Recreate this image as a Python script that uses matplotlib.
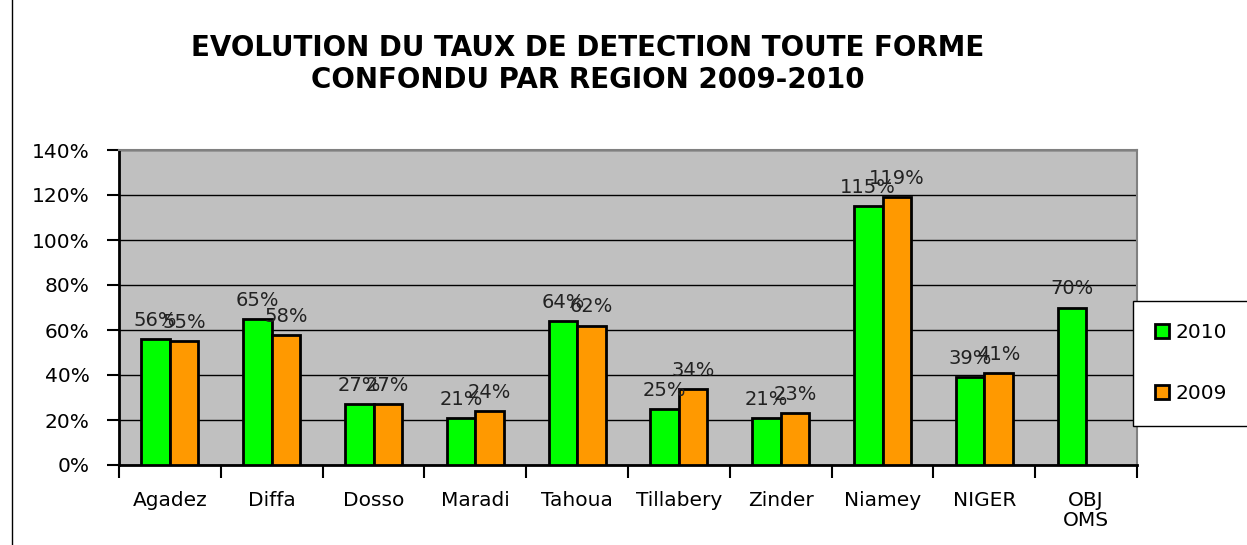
import matplotlib.pyplot as plt
import numpy as np
from matplotlib.lines import Line2D

plt.rcParams['font.family'] = ['DejaVu Sans']

regions = ['Agadez', 'Diffa', 'Dosso', 'Maradi', 'Tahoua', 'Tillabery',
           'Zinder', 'Niamey', 'NIGER', 'OBJ\nOMS']
taux_2010 = [56, 65, 27, 21, 64, 25, 21, 115, 39, 70]
taux_2009 = [55, 58, 27, 24, 62, 34, 23, 119, 41, np.nan]

fig = plt.figure(figsize=(12.47, 5.45), dpi=100)
ax = fig.add_axes([119 / 1247, 1 - 465 / 545, (1137 - 119) / 1247, (465 - 150) / 545])
ax.set_facecolor('#c0c0c0')

x = np.arange(len(regions))
w = 0.28
b1 = ax.bar(x - w / 2, taux_2010, w, color='#00ff00', edgecolor='black', linewidth=2, label='2010', zorder=3)
b2 = ax.bar(x + w / 2, taux_2009, w, color='#ff9900', edgecolor='black', linewidth=2, label='2009', zorder=3)

# etiquettes au-dessus des barres
for xs, vals in [(x - w / 2, taux_2010), (x + w / 2, taux_2009)]:
    for xi, v in zip(xs, vals):
        if np.isnan(v):
            continue
        ax.text(xi, v + 4, f'{v:.0f}%', ha='center', va='bottom', fontsize=14, color='#222222', zorder=4)

ax.set_xlim(-0.5, len(regions) - 0.5)
ax.set_ylim(0, 140)
ax.set_yticks(range(0, 141, 20))
ax.set_yticklabels([f'{v}%' for v in range(0, 141, 20)], fontsize=14.5)
ax.yaxis.grid(True, color='black', linewidth=1)
ax.set_axisbelow(True)

ax.set_xticks(x)
ax.set_xticklabels(regions, fontsize=14.5, linespacing=1.05)
ax.tick_params(axis='x', length=0, pad=19)
ax.set_xticks(np.arange(-0.5, len(regions), 1), minor=True)
ax.tick_params(axis='x', which='minor', length=9, width=1.5, direction='out')
ax.tick_params(axis='y', length=9, width=1.5, direction='out', pad=12)

for s in ['top', 'right']:
    ax.spines[s].set_color('#808080')
    ax.spines[s].set_linewidth(1.5)
for s in ['left', 'bottom']:
    ax.spines[s].set_linewidth(2)

fig.suptitle('EVOLUTION DU TAUX DE DETECTION TOUTE FORME\nCONFONDU PAR REGION 2009-2010',
             x=588 / 1247, y=1 - 34 / 545, fontsize=20, fontweight='bold', va='top', linespacing=1.2)

leg = fig.legend(handles=[b1, b2], loc='upper left', bbox_to_anchor=(1133 / 1247, 1 - 301 / 545),
                 fontsize=14.5, frameon=True, fancybox=False, edgecolor='black', framealpha=1,
                 labelspacing=2.1, handlelength=0.7, handleheight=0.7, handletextpad=0.3,
                 borderpad=1.1, borderaxespad=0)
leg.get_frame().set_linewidth(1)

fig.add_artist(Line2D([12 / 1247, 12 / 1247], [0, 1], color='black', linewidth=1))

fig.savefig('out.png', dpi=100)
